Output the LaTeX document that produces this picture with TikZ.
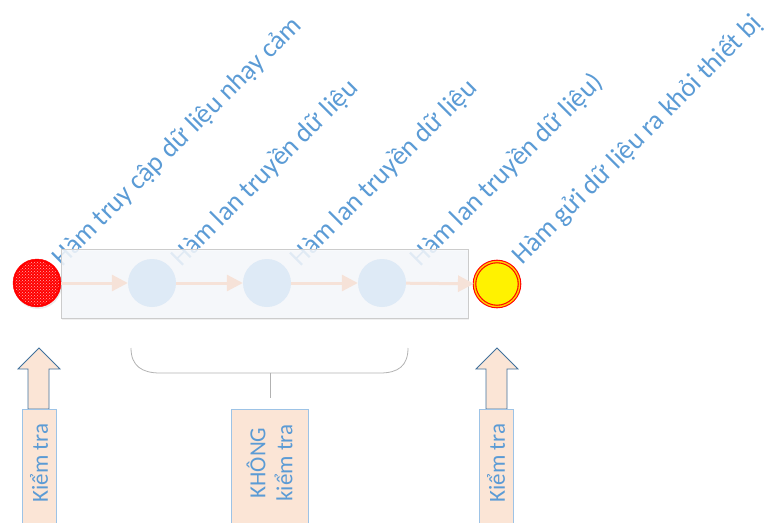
\documentclass[tikz,border=0pt]{standalone}
\usepackage{fontspec}
\setmainfont{Carlito}
\usepackage{xcolor}
\usetikzlibrary{positioning,arrows.meta,calc,patterns,shadows}
\definecolor{txtblue}{HTML}{5B9BD5}
\definecolor{peach}{HTML}{FBE5D6}
\definecolor{flowpeach}{HTML}{F6E2D8}
\definecolor{arrline}{HTML}{41719C}
\definecolor{tagline}{HTML}{9DC3E6}
\definecolor{panelfill}{HTML}{F7F9FC}
\definecolor{stepfill}{HTML}{DEEAF6}
\tikzset{
  fnlabel/.style={anchor=base west,inner sep=0pt,rotate=45,text=txtblue,font=\fontsize{27}{31}\selectfont},
  panel/.style={rectangle,draw=black!20,fill=panelfill,fill opacity=0.85,minimum width=407pt,minimum height=69pt,drop shadow={opacity=0.12,shadow xshift=1pt,shadow yshift=-2pt}},
  stepnode/.style={circle,fill=stepfill,minimum size=48pt,inner sep=0pt},
  srcnode/.style={circle,draw=red,fill=red,minimum size=48pt,inner sep=0pt,drop shadow={opacity=0.15,shadow xshift=1pt,shadow yshift=-2pt}},
  sinknode/.style={circle,draw=red,line width=1.1pt,double=orange!40!yellow,double distance=1.4pt,fill=yellow,minimum size=45pt,inner sep=0pt},
  flow/.style={-{Triangle[length=16pt,width=16pt]},draw=flowpeach,line width=3pt},
  tagbox/.style={rectangle,draw=tagline,fill=peach,anchor=north,inner sep=0pt},
  tagtext/.style={rotate=90,text=txtblue,align=center,font=\fontsize{23}{27}\selectfont},
  blockarrow/.style={draw=arrline,fill=peach,line width=0.8pt},
  brace/.style={draw=black!30,line width=0.8pt},
  uparr/.pic={\path[blockarrow] (0,0) -- (21,21) -- (10,21) -- (10,61) -- (-11,61) -- (-11,21) -- (-21,21) -- cycle;}
}

\begin{document}
\begin{tikzpicture}[x=1pt,y=-1pt]
  \useasboundingbox (0,0) rectangle (770,522);

  % function labels
  \node[fnlabel] (lblsrc) at (62,268) {Hàm truy cập dữ liệu nhạy cảm};
  \node[fnlabel] (lblone) at (181,268) {Hàm lan truyền dữ liệu};
  \node[fnlabel] (lbltwo) at (300,268) {Hàm lan truyền dữ liệu};
  \node[fnlabel] (lblthree) at (420,268) {Hàm lan truyền dữ liệu)};
  \node[fnlabel] (lblsink) at (522,266) {Hàm gửi dữ liệu ra khỏi thiết bị};

  % propagation chain
  \node[panel] (chain) at (264.5,283.5) {};
  \node[stepnode] (stepa) at (152,283) {};
  \node[stepnode] (stepb) at (267,283) {};
  \node[stepnode] (stepc) at (382,283) {};

  \node[srcnode] (src) at (37,283) {};
  \fill[pattern=crosshatch dots,pattern color=white!70!red] (src.center) circle (22pt);
  \node[sinknode] (sink) at (497,284) {};

  \draw[flow] (src) -- (stepa);
  \draw[flow] (stepa) -- (stepb);
  \draw[flow] (stepb) -- (stepc);
  \draw[flow] (stepc) -- (sink);

  % bracket under the chain
  \coordinate (brmid) at (270,373);
  \draw[brace] (131,348) .. controls (131,366) and (142,373) .. (160,373) -- (380,373)
    .. controls (398,373) and (408,366) .. (408,348);
  \draw[brace] (brmid) -- ++(0,25);

  % checks
  \pic at (39,348) {uparr};
  \pic at (497,348) {uparr};
  \node[tagbox,minimum width=34pt,minimum height=140pt] (tagsrc) at (39,409) {};
  \node[tagbox,minimum width=77pt,minimum height=140pt] (tagmid) at (269.5,409) {};
  \node[tagbox,minimum width=34pt,minimum height=140pt] (tagsink) at (496,409) {};
  \node[tagtext] (txtsrc) at (39,463) {Kiểm tra};
  \node[tagtext] (txtmid) at (269.5,463) {KHÔNG\\kiểm tra};
  \node[tagtext] (txtsink) at (496,463) {Kiểm tra};
\end{tikzpicture}
\end{document}
